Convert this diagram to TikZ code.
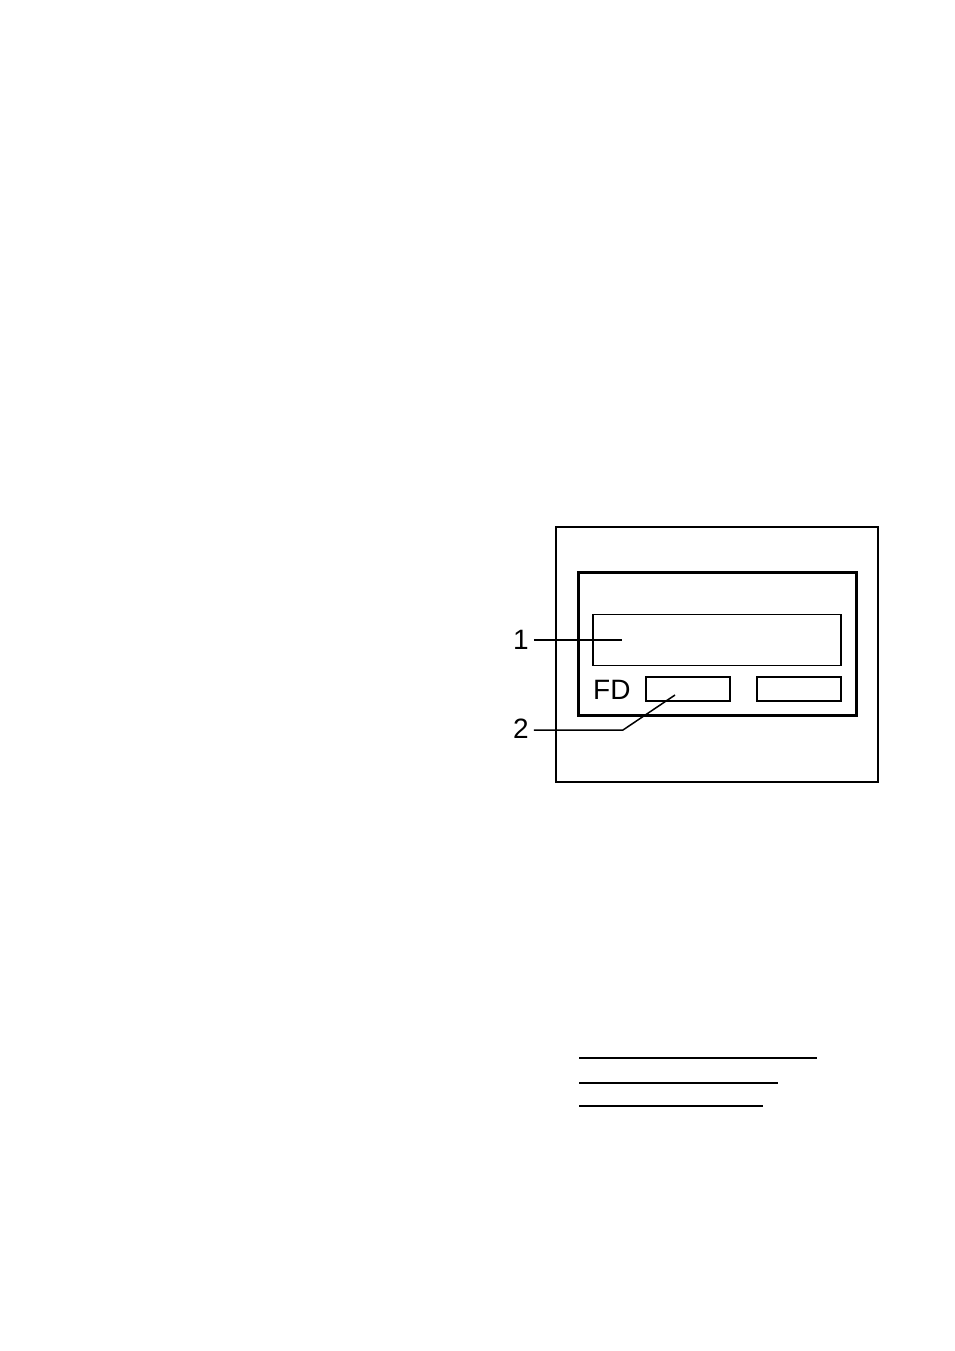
\documentclass[tikz,border=0pt]{standalone}
\usepackage{fontspec}
\setmainfont{Liberation Sans}
\usetikzlibrary{positioning}

\tikzset{
    thin box/.style={draw, line width=1.6pt, minimum width=#1, inner sep=0pt},
    callout/.style={line width=1.5pt},
    numlabel/.style={font=\fontsize{28}{28}\selectfont, inner sep=0pt}
}

\begin{document}
\begin{tikzpicture}[x=1pt, y=-1pt]
    \useasboundingbox (0,0) rectangle (954,1351);

    % panel and display frame
    \draw[line width=1.6pt] (556,527) rectangle (878,782);
    \draw[line width=3pt] (578,572) rectangle (856,715);

    \node[thin box=248pt, minimum height=51pt] (display) at (717,640) {};
    \node[thin box=84pt, minimum height=24pt] (fdleft) at (688,689) {};
    \node[thin box=84pt, minimum height=24pt] (fdright) at (799,689) {};
    \node[numlabel, anchor=base west] (fd) at (593,699) {FD};

    % callouts
    \node[numlabel] (one) at (521,640) {1};
    \node[numlabel] (two) at (521,729) {2};
    \coordinate (bend) at (623,730);
    \draw[callout] (one.east) ++(5,0) -- (622,640);
    \draw[callout] (two.east) ++(5,1) -- (bend) -- (675,695);

    % lines below
    \draw[line width=1.6pt] (579,1058) -- (817,1058);
    \draw[line width=1.6pt] (579,1083) -- (778,1083);
    \draw[line width=1.6pt] (579,1106) -- (763,1106);
\end{tikzpicture}
\end{document}
